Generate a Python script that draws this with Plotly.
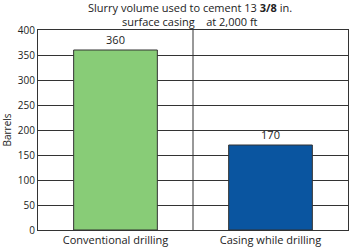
import plotly.graph_objects as go

categories = ["Conventional drilling", "Casing while drilling"]
values = [360, 170]
colors = ["#88CC77", "#0A55A0"]
title_line1 = "Slurry volume used to cement 13 <b>3/8</b> in."
title_line2 = "surface casing    at 2,000 ft"
y_label = "Barrels"
y_ticks = [0, 50, 100, 150, 200, 250, 300, 350, 400]

FONT = "Open Sans"

fig = go.Figure(go.Bar(
    x=categories, y=values,
    marker=dict(color=colors, line=dict(color="#333333", width=1)),
    width=0.54,
    text=[str(v) for v in values], textposition="outside",
    textfont=dict(family=FONT, size=11, color="#222222"),
    cliponaxis=False,
))

fig.add_shape(type="line", xref="x", yref="paper", x0=0.5, x1=0.5, y0=0, y1=1,
              line=dict(color="#333333", width=1))

fig.add_annotation(text=title_line1, xref="paper", yref="paper", x=0.49, y=1.11,
                   showarrow=False, xanchor="center", yanchor="middle",
                   font=dict(family=FONT, size=11, color="#222222"))
fig.add_annotation(text=title_line2, xref="paper", yref="paper", x=0.49, y=1.045,
                   showarrow=False, xanchor="center", yanchor="middle",
                   font=dict(family=FONT, size=11, color="#222222"))

fig.update_layout(
    width=350, height=248,
    margin=dict(l=38, r=2, t=30, b=18),
    paper_bgcolor="white", plot_bgcolor="white",
    font=dict(family=FONT, size=11, color="#222222"),
    showlegend=False,
)
fig.update_xaxes(showline=True, linecolor="#333333", linewidth=1, mirror=True,
                 ticks="", tickfont=dict(family=FONT, size=11))
fig.update_yaxes(range=[0, 400], tickvals=y_ticks, showgrid=True, gridcolor="#333333",
                 gridwidth=1, showline=True, linecolor="#333333", linewidth=1, mirror=True,
                 ticks="", zeroline=False,
                 title=dict(text=y_label, font=dict(family=FONT, size=10), standoff=5),
                 tickfont=dict(family=FONT, size=10))

fig.write_html("out.html")
